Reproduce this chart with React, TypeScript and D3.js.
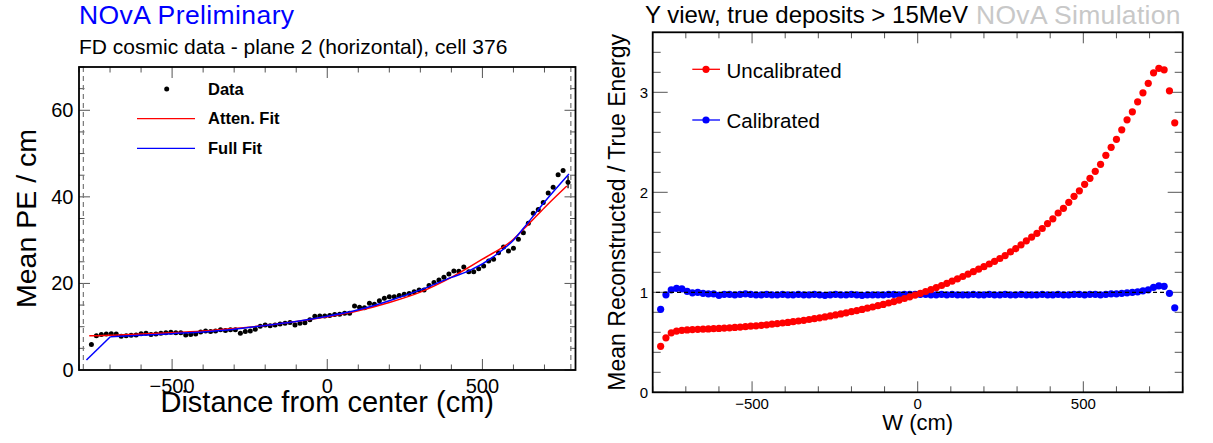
import React from "react";
import * as d3 from "d3";

// ---------- Left panel data (FD cosmic data, plane 2, cell 376) ----------
const leftBinStart = -760;
const leftBinStep = 16;
const leftData = [
  5.9, 7.9, 8.2, 8.3, 8.4, 8.3, 7.8, 7.9, 8.0, 8.1,
  8.4, 8.5, 8.2, 8.3, 8.5, 8.6, 8.7, 8.6, 8.6, 8.1,
  8.2, 8.3, 8.8, 9.0, 8.9, 9.0, 9.3, 9.1, 9.3, 9.3,
  8.5, 8.9, 9.0, 9.4, 10.1, 10.4, 10.2, 10.4, 10.6, 10.8,
  11.0, 10.4, 10.8, 10.9, 11.6, 12.4, 12.5, 12.5, 12.6, 12.8,
  12.9, 13.1, 13.1, 14.8, 14.5, 14.4, 15.4, 15.2, 16.0, 16.6,
  16.9, 16.9, 17.2, 17.5, 17.7, 18.1, 18.5, 18.5, 19.5, 20.2,
  20.8, 21.4, 22.2, 22.9, 22.8, 23.8, 22.7, 22.7, 23.4, 24.0,
  25.2, 25.6, 27.1, 28.4, 27.5, 28.1, 30.2, 31.7, 33.9, 36.2,
  37.1, 38.7, 40.9, 42.2, 45.1, 46.1, 43.4,
];
const leftLastError = 1.4;

const attenFitX = [-767, -700, -600, -500, -400, -300, -200, -100, 0, 100, 200, 300, 400, 500, 600, 650, 700, 772];
const attenFitY = [7.9, 8.0, 8.3, 8.6, 9.0, 9.6, 10.3, 11.2, 12.3, 13.7, 15.6, 18.0, 21.4, 25.6, 30.2, 33.8, 37.5, 42.5];

// first two points form the straight rising edge, the rest the smooth part
const fullFitX = [-776, -699, -600, -500, -400, -300, -200, -100, 0, 100, 200, 300, 400, 460, 536, 600, 643, 700, 779];
const fullFitY = [2.3, 7.7, 8.0, 8.4, 8.8, 9.4, 10.3, 11.2, 12.4, 13.9, 16.0, 18.5, 21.4, 23.0, 26.2, 30.0, 33.7, 38.8, 45.3];

const leftXTicks = [-500, 0, 500];
const leftYTicks = [0, 20, 40, 60];
const leftLegend = ["Data", "Atten. Fit", "Full Fit"];

// ---------- Right panel data (Y view, true deposits > 15 MeV) ----------
const rightBinStart = -776;
const rightBinStep = 16;
const uncalibrated = [
  0.46, 0.545, 0.595, 0.612, 0.62, 0.624, 0.627, 0.63, 0.631, 0.634,
  0.636, 0.639, 0.642, 0.645, 0.649, 0.652, 0.656, 0.661, 0.665, 0.67,
  0.675, 0.681, 0.687, 0.693, 0.699, 0.706, 0.713, 0.72, 0.728, 0.736,
  0.745, 0.754, 0.764, 0.774, 0.784, 0.795, 0.806, 0.817, 0.829, 0.841,
  0.853, 0.866, 0.879, 0.893, 0.907, 0.922, 0.938, 0.955, 0.972, 0.99,
  1.008, 1.027, 1.047, 1.068, 1.09, 1.112, 1.135, 1.158, 1.182, 1.206,
  1.231, 1.256, 1.283, 1.31, 1.338, 1.367, 1.404, 1.437, 1.475, 1.515,
  1.552, 1.59, 1.638, 1.687, 1.735, 1.793, 1.84, 1.9, 1.96, 2.015,
  2.08, 2.14, 2.21, 2.28, 2.37, 2.45, 2.53, 2.625, 2.725, 2.805,
  2.905, 2.995, 3.09, 3.195, 3.24, 3.225, 3.015, 2.695,
];
const calibrated = [
  0.83, 0.975, 1.025, 1.04, 1.035, 1.01, 0.995, 1.0, 0.99, 0.985,
  0.985, 0.97, 0.98, 0.98, 0.975, 0.98, 0.985, 0.98, 0.975, 0.975,
  0.98, 0.975, 0.975, 0.98, 0.975, 0.975, 0.98, 0.975, 0.975, 0.98,
  0.975, 0.97, 0.975, 0.98, 0.975, 0.975, 0.98, 0.975, 0.97, 0.975,
  0.975, 0.975, 0.975, 0.98, 0.98, 0.975, 0.98, 0.98, 0.98, 0.98,
  0.98, 0.975, 0.975, 0.98, 0.975, 0.98, 0.975, 0.975, 0.975, 0.98,
  0.975, 0.975, 0.98, 0.975, 0.975, 0.98, 0.975, 0.975, 0.98, 0.975,
  0.975, 0.975, 0.98, 0.975, 0.975, 0.98, 0.975, 0.975, 0.98, 0.98,
  0.975, 0.98, 0.98, 0.975, 0.98, 0.985, 0.985, 0.99, 0.995, 1.0,
  1.005, 1.015, 1.025, 1.05, 1.065, 1.06, 0.99, 0.845,
];
const rightXTicks = [-500, 0, 500];
const rightYTicks = [0, 1, 2, 3];
const rightLegend = ["Uncalibrated", "Calibrated"];

const FONT = "'Liberation Sans', Arial, Helvetica, sans-serif";
const TICK = "#555";

function fmt(v: number) {
  return v < 0 ? "\u2212" + Math.abs(v) : String(v);
}

export default function App() {
  const xL = d3.scaleLinear().domain([-800, 800]).range([79, 575.5]);
  const yL = d3.scaleLinear().domain([0, 70]).range([370, 67]);
  const xR = d3.scaleLinear().domain([-800, 800]).range([652.7, 1182.7]);
  const yR = d3.scaleLinear().domain([0, 3.6]).range([392.3, 32.3]);

  const leftPts = leftData.map((v, i) => ({ x: leftBinStart + i * leftBinStep, y: v }));
  const uncPts = uncalibrated.map((v, i) => ({ x: rightBinStart + i * rightBinStep, y: v }));
  const calPts = calibrated.map((v, i) => ({ x: rightBinStart + i * rightBinStep, y: v }));

  const smoothL = d3
    .line<[number, number]>()
    .x((d) => xL(d[0]))
    .y((d) => yL(d[1]))
    .curve(d3.curveMonotoneX);
  const straightL = d3
    .line<[number, number]>()
    .x((d) => xL(d[0]))
    .y((d) => yL(d[1]));
  const attenPath = smoothL(attenFitX.map((x, i) => [x, attenFitY[i]]) as [number, number][]) || "";
  const fullPts = fullFitX.map((x, i) => [x, fullFitY[i]]) as [number, number][];
  const fullEdge = straightL(fullPts.slice(0, 2)) || "";
  const fullPath = smoothL(fullPts.slice(1)) || "";

  const lxMinor = d3.range(-800, 801, 100);
  const lyMinor = d3.range(0, 71, 5);
  const rxMinor = d3.range(-800, 801, 100);
  const ryMinor = d3.range(0, 3.61, 0.2);

  const [lx0, lx1] = xL.range();
  const [ly0, ly1] = yL.range();
  const [rx0, rx1] = xR.range();
  const [ry0, ry1] = yR.range();

  const last = leftPts[leftPts.length - 1];

  return (
    <svg
      width={1213}
      height={443}
      style={{ position: "absolute", left: 0, top: 0, background: "#fff" }}
      fontFamily={FONT}
    >
      <rect x={0} y={0} width={1213} height={443} fill="#fff" />

      {/* ================= LEFT PANEL ================= */}
      <text x={79} y={24} fontSize={26.5} fill="#0000ff" letterSpacing={0.4}>NOvA Preliminary</text>
      <text x={79} y={53.5} fontSize={21} fill="#000">FD cosmic data - plane 2 (horizontal), cell 376</text>

      <g stroke={TICK} strokeWidth={1}>
        {lxMinor.map((t) => {
          const major = leftXTicks.includes(t);
          const len = major ? 11 : 5.5;
          const x = xL(t);
          return (
            <g key={"lx" + t}>
              <line x1={x} x2={x} y1={ly0} y2={ly0 - len} />
              <line x1={x} x2={x} y1={ly1} y2={ly1 + len} />
            </g>
          );
        })}
        {lyMinor.map((t) => {
          const major = leftYTicks.includes(t);
          const len = major ? 11 : 5.5;
          const y = yL(t);
          return (
            <g key={"ly" + t}>
              <line x1={lx0} x2={lx0 + len} y1={y} y2={y} />
              <line x1={lx1} x2={lx1 - len} y1={y} y2={y} />
            </g>
          );
        })}
      </g>

      {[-786, 785].map((v) => (
        <line
          key={"dl" + v}
          x1={xL(v)}
          x2={xL(v)}
          y1={ly1}
          y2={ly0}
          stroke="#777"
          strokeWidth={1.2}
          strokeDasharray="5,4"
        />
      ))}

      <g fill="#000">
        {leftPts.map((p, i) => (
          <circle key={"ld" + i} cx={xL(p.x)} cy={yL(p.y)} r={2.5} />
        ))}
      </g>
      <line
        x1={xL(last.x)}
        x2={xL(last.x)}
        y1={yL(last.y - leftLastError)}
        y2={yL(last.y + leftLastError)}
        stroke="#000"
        strokeWidth={1.3}
      />
      <path d={attenPath} fill="none" stroke="#ff0000" strokeWidth={1.5} />
      <path d={fullEdge} fill="none" stroke="#0000ff" strokeWidth={1.5} />
      <path d={fullPath} fill="none" stroke="#0000ff" strokeWidth={1.5} />

      <rect x={lx0} y={ly1} width={lx1 - lx0} height={ly0 - ly1} fill="none" stroke="#000" strokeWidth={1.8} />

      <circle cx={166.7} cy={89} r={2.5} fill="#000" />
      <text x={208} y={94.5} fontSize={16.5} fontWeight="bold">{leftLegend[0]}</text>
      <line x1={137} x2={195} y1={118.7} y2={118.7} stroke="#ff0000" strokeWidth={1.3} />
      <text x={208} y={124.3} fontSize={16.5} fontWeight="bold">{leftLegend[1]}</text>
      <line x1={137} x2={195} y1={148.3} y2={148.3} stroke="#0000ff" strokeWidth={1.3} />
      <text x={208} y={154} fontSize={16.5} fontWeight="bold">{leftLegend[2]}</text>

      {leftXTicks.map((t) => (
        <text key={"lxl" + t} x={xL(t)} y={392.5} fontSize={20} textAnchor="middle">{fmt(t)}</text>
      ))}
      {leftYTicks.map((t) => (
        <text key={"lyl" + t} x={73.5} y={yL(t) + 7} fontSize={20} textAnchor="end">{fmt(t)}</text>
      ))}

      <text x={(lx0 + lx1) / 2} y={411.5} fontSize={29} textAnchor="middle">Distance from center (cm)</text>
      <text
        transform={`translate(35.5, ${(ly0 + ly1) / 2}) rotate(-90)`}
        fontSize={28.5}
        textAnchor="middle"
      >
        Mean PE / cm
      </text>

      {/* ================= RIGHT PANEL ================= */}
      <text x={645} y={23} fontSize={24} fill="#000">Y view, true deposits &gt; 15MeV</text>
      <text x={976} y={24} fontSize={26.5} fill="#c8c8c8" letterSpacing={0.3}>NOvA Simulation</text>

      <g stroke={TICK} strokeWidth={1}>
        {rxMinor.map((t) => {
          const major = rightXTicks.includes(t);
          const len = major ? 11 : 6;
          const x = xR(t);
          return (
            <g key={"rx" + t}>
              <line x1={x} x2={x} y1={ry0} y2={ry0 - len} />
              <line x1={x} x2={x} y1={ry1} y2={ry1 + len} />
            </g>
          );
        })}
        {ryMinor.map((t) => {
          const major = rightYTicks.some((m) => Math.abs(m - t) < 1e-6);
          const len = major ? 15 : 8;
          const y = yR(t);
          return (
            <g key={"ry" + t.toFixed(1)}>
              <line x1={rx0} x2={rx0 + len} y1={y} y2={y} />
              <line x1={rx1} x2={rx1 - len} y1={y} y2={y} />
            </g>
          );
        })}
      </g>

      <g fill="#0000ff">
        {calPts.map((p, i) => (
          <circle key={"cb" + i} cx={xR(p.x)} cy={yR(p.y)} r={3.6} />
        ))}
      </g>
      <line
        x1={xR(-790)}
        x2={xR(752)}
        y1={yR(1)}
        y2={yR(1)}
        stroke="#000"
        strokeWidth={1.3}
        strokeDasharray="4,3"
      />
      <g fill="#ff0000">
        {uncPts.map((p, i) => (
          <circle key={"uc" + i} cx={xR(p.x)} cy={yR(p.y)} r={3.6} />
        ))}
      </g>

      <rect x={rx0} y={ry1} width={rx1 - rx0} height={ry0 - ry1} fill="none" stroke="#000" strokeWidth={1.8} />

      <line x1={692.3} x2={720} y1={69.3} y2={69.3} stroke="#ff0000" strokeWidth={1.3} />
      <circle cx={706} cy={69.3} r={3.6} fill="#ff0000" />
      <text x={726.5} y={77.5} fontSize={20.5}>{rightLegend[0]}</text>
      <line x1={692.3} x2={720} y1={120} y2={120} stroke="#0000ff" strokeWidth={1.3} />
      <circle cx={706} cy={120} r={3.6} fill="#0000ff" />
      <text x={726.5} y={128} fontSize={20.5}>{rightLegend[1]}</text>

      {rightXTicks.map((t) => (
        <text key={"rxl" + t} x={xR(t)} y={409} fontSize={15} textAnchor="middle">{fmt(t)}</text>
      ))}
      {rightYTicks.map((t) => (
        <text key={"ryl" + t} x={648} y={yR(t) + 5.3} fontSize={15} textAnchor="end">{fmt(t)}</text>
      ))}

      <text x={(rx0 + rx1) / 2} y={430} fontSize={22} textAnchor="middle">W (cm)</text>
      <text
        transform={`translate(625, ${(ry0 + ry1) / 2}) rotate(-90)`}
        fontSize={23}
        textAnchor="middle"
      >
        Mean Reconstructed / True Energy
      </text>
    </svg>
  );
}
